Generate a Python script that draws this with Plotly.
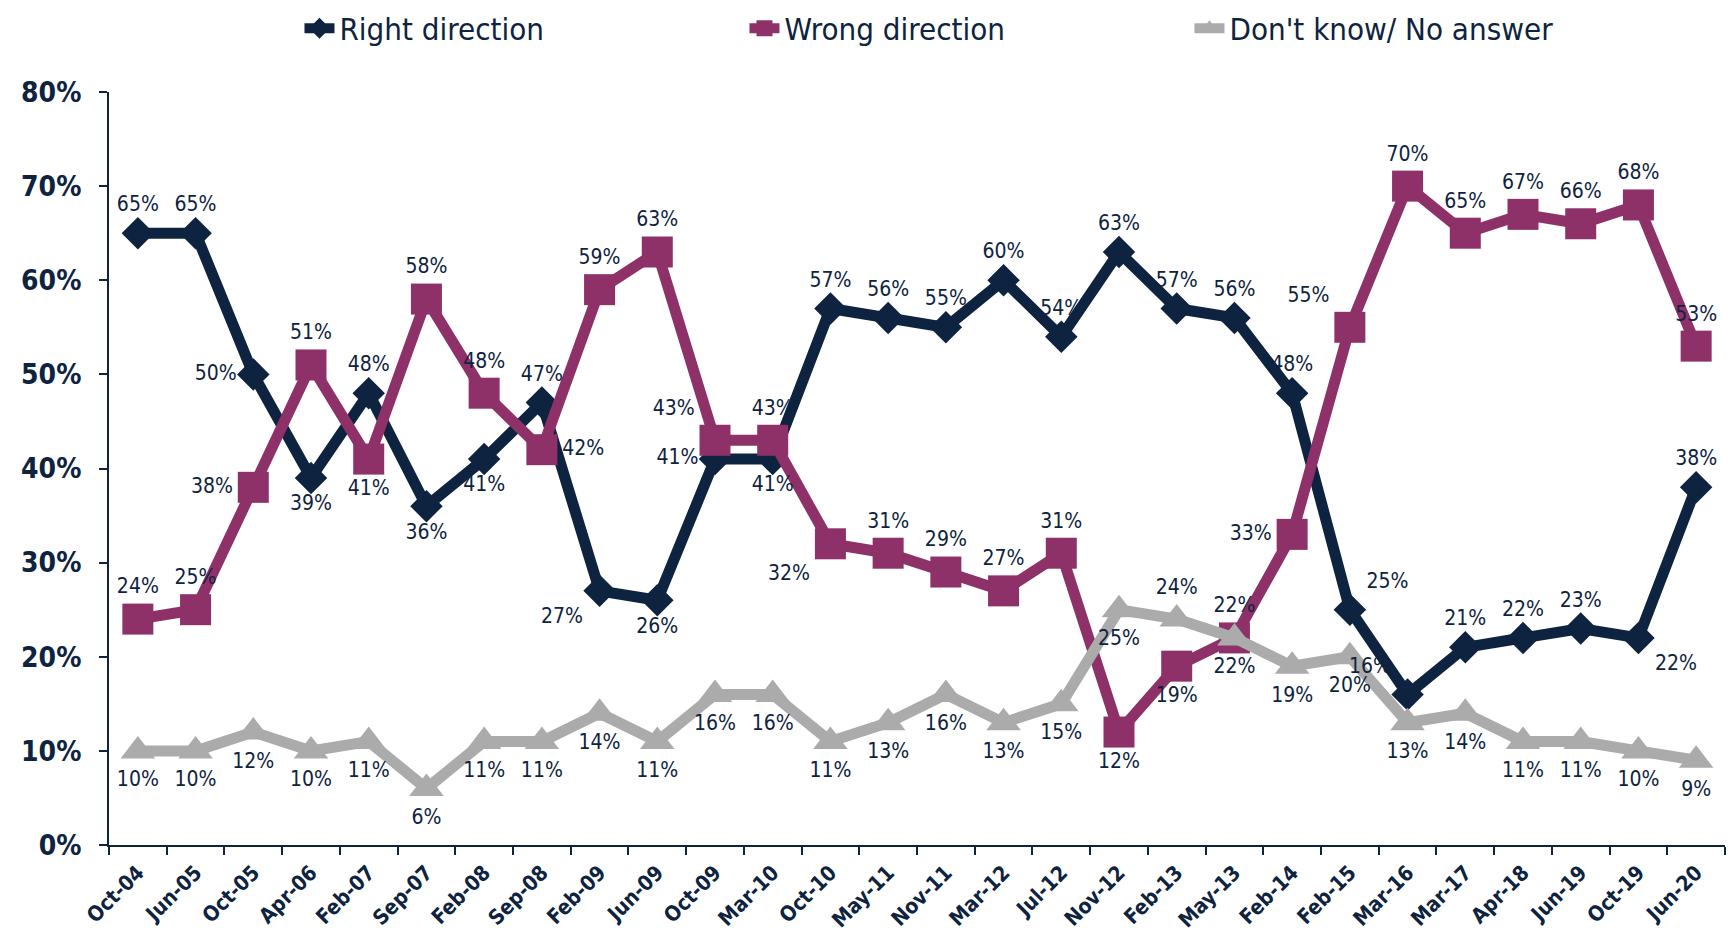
import plotly.graph_objects as go

categories = ["Oct-04", "Jun-05", "Oct-05", "Apr-06", "Feb-07", "Sep-07", "Feb-08", "Sep-08",
              "Feb-09", "Jun-09", "Oct-09", "Mar-10", "Oct-10", "May-11", "Nov-11", "Mar-12",
              "Jul-12", "Nov-12", "Feb-13", "May-13", "Feb-14", "Feb-15", "Mar-16", "Mar-17",
              "Apr-18", "Jun-19", "Oct-19", "Jun-20"]

right_direction = [65, 65, 50, 39, 48, 36, 41, 47, 27, 26, 41, 41, 57, 56, 55, 60, 54, 63, 57, 56,
                   48, 25, 16, 21, 22, 23, 22, 38]
wrong_direction = [24, 25, 38, 51, 41, 58, 48, 42, 59, 63, 43, 43, 32, 31, 29, 27, 31, 12, 19, 22,
                   33, 55, 70, 65, 67, 66, 68, 53]
dont_know = [10, 10, 12, 10, 11, 6, 11, 11, 14, 11, 16, 16, 11, 13, 16, 13, 15, 25, 24, 22,
             19, 20, 13, 14, 11, 11, 10, 9]

y_ticks = [0, 10, 20, 30, 40, 50, 60, 70, 80]
y_tick_labels = [f"{v}%" for v in y_ticks]

right_pos = ["top center", "top center", "middle left", "bottom center", "top center", "bottom center",
             "bottom center", "top center", "bottom left", "bottom center", "middle left", "bottom center",
             "top center", "top center", "top center", "top center", "top center", "top center",
             "top center", "top center", "top center", "top right", "top left", "top center",
             "top center", "top center", "bottom right", "top center"]
wrong_pos = ["top center", "top center", "middle left", "top center", "bottom center", "top center",
             "top center", "middle right", "top center", "top center", "top left", "top center",
             "bottom left", "top center", "top center", "top center", "top center", "bottom center",
             "bottom center", "top center", "middle left", "top left", "top center", "top center",
             "top center", "top center", "top center", "top center"]
dk_pos = ["bottom center"] * 18 + ["top center"] + ["bottom center"] * 9

NAVY = "#0E2340"
PLUM = "#8E3169"
GRAY = "#ABABAB"
FONT = "DejaVu Sans Condensed, DejaVu Sans, sans-serif"

series = [
    ("Right direction", right_direction, right_pos, NAVY, "diamond", 25),
    ("Wrong direction", wrong_direction, wrong_pos, PLUM, "square", 31),
    ("Don't know/ No answer", dont_know, dk_pos, GRAY, "triangle-up", 30),
]

fig = go.Figure()
# lines and markers
for name, vals, pos, color, sym, size in series:
    fig.add_trace(go.Scatter(
        x=categories, y=vals, name=name, mode="lines+markers",
        line=dict(color=color, width=11), marker=dict(symbol=sym, size=size, color=color),
        cliponaxis=False))
# data labels on top of all lines
for name, vals, pos, color, sym, size in series:
    fig.add_trace(go.Scatter(
        x=categories, y=vals, name=name, mode="markers+text", showlegend=False,
        marker=dict(symbol=sym, size=size, color="rgba(0,0,0,0)"),
        text=[f"{v}%" for v in vals], textposition=pos,
        textfont=dict(color=NAVY, size=21, family=FONT), cliponaxis=False, hoverinfo="skip"))

fig.update_layout(
    width=1735, height=936,
    margin=dict(l=101, r=18, t=84, b=99, autoexpand=False),
    paper_bgcolor="white", plot_bgcolor="white",
    font=dict(family=FONT, color=NAVY),
    showlegend=True,
    legend=dict(orientation="h", xref="container", yref="container",
                x=0.168, xanchor="left", y=0.978, yanchor="middle",
                font=dict(size=31, color=NAVY, family=FONT), itemwidth=30,
                traceorder="normal", entrywidth=400),
    xaxis=dict(type="category", range=[-0.5, len(categories) - 0.5],
               showline=True, linecolor=NAVY, linewidth=2, automargin=False,
               ticks="outside", ticklen=8, tickwidth=2, tickcolor=NAVY, tickson="boundaries",
               tickangle=-45, ticklabelstandoff=5, showgrid=False, zeroline=False,
               tickfont=dict(size=21, color=NAVY, family=FONT, weight="bold")),
    yaxis=dict(range=[0, 80], tickmode="array", tickvals=y_ticks, ticktext=y_tick_labels,
               automargin=False, ticklabelstandoff=12,
               showline=True, linecolor=NAVY, linewidth=2, ticks="outside", ticklen=8,
               tickwidth=2, tickcolor=NAVY, showgrid=False, zeroline=False,
               tickfont=dict(size=28, color=NAVY, family=FONT, weight="bold")),
)

fig.write_html("out.html")
